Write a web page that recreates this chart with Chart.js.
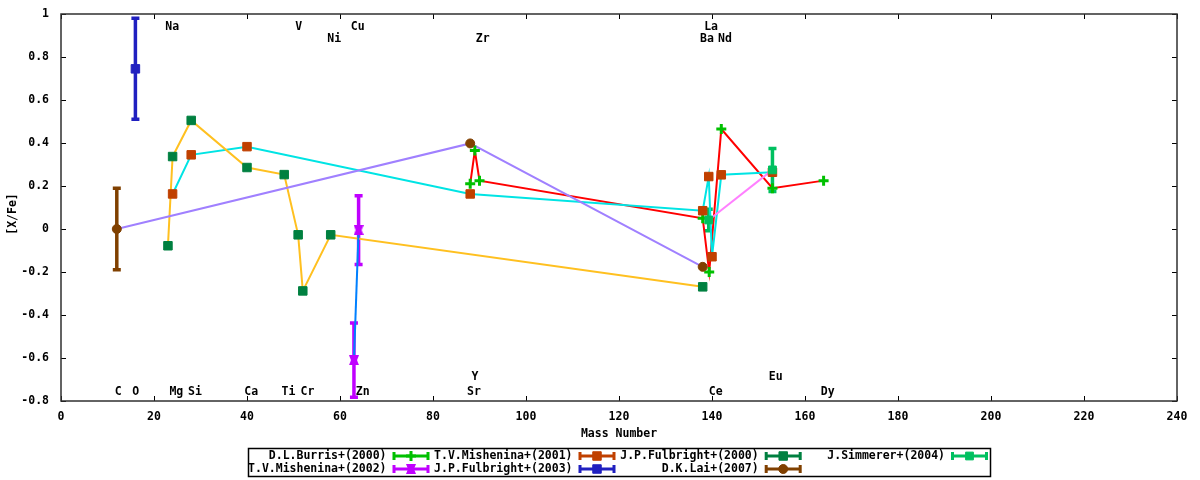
<!DOCTYPE html>
<html>
<head>
<meta charset="utf-8">
<script src="https://cdn.jsdelivr.net/npm/chart.js@4.4.1/dist/chart.umd.min.js"></script>
<style>
html,body{margin:0;padding:0;background:#fff;}
canvas{display:block;}
</style>
</head>
<body>
<canvas id="c" width="1200" height="480"></canvas>
<script>
// ---------- data (mass number vs [X/Fe]) ----------
const burrisMass  = [88, 89, 90, 138, 139.4, 142, 153, 164];
const burrisXFe   = [0.21, 0.365, 0.225, 0.05, -0.20, 0.465, 0.19, 0.225];

const mish01Mass  = [24, 28, 40, 88, 138, 139.3, 140, 142, 153];
const mish01XFe   = [0.163, 0.345, 0.383, 0.163, 0.085, 0.244, -0.129, 0.252, 0.264];

const fulb00Mass  = [23, 24, 28, 40, 48, 51, 52, 58, 138];
const fulb00XFe   = [-0.078, 0.337, 0.505, 0.286, 0.253, -0.027, -0.288, -0.027, -0.269];

const simmMass    = [139.3, 153];
const simmXFe     = [0.042, 0.275];
const simmErr     = [0.05, 0.10];

const mish02Mass  = [63, 64];
const mish02XFe   = [-0.61, -0.005];
const mish02Err   = [0.173, 0.16];

const fulb03Mass  = [16];
const fulb03XFe   = [0.745];
const fulb03Err   = [0.235];

const laiMass     = [12, 88, 138];
const laiXFe      = [0, 0.398, -0.176];
const laiErr      = [0.19, 0, 0];

const seriesNames = ["D.L.Burris+(2000)", "T.V.Mishenina+(2001)", "J.P.Fulbright+(2000)",
                     "J.Simmerer+(2004)", "T.V.Mishenina+(2002)", "J.P.Fulbright+(2003)", "D.K.Lai+(2007)"];

// element labels inside the plot
const elemNames = ["Na","V","Cu","La", "Ni","Zr","Ba","Nd", "Y","Eu",
                   "C","O","Mg","Si","Ca","Ti","Cr","Zn","Sr","Ce","Dy"];
const elemMass  = [23.9, 51.1, 63.8, 139.8, 58.75, 90.7, 138.9, 142.8, 89.0, 153.7,
                   12.3, 16.05, 24.8, 28.8, 40.9, 48.9, 53.0, 64.9, 88.8, 140.8, 164.9];
const elemLevel = [0.94, 0.94, 0.94, 0.94, 0.885, 0.885, 0.885, 0.885, -0.69, -0.69,
                   -0.758, -0.758, -0.758, -0.758, -0.758, -0.758, -0.758, -0.758, -0.758, -0.758, -0.758];

const xMin = 0, xMax = 240, xStep = 20;
const yMin = -0.8, yMax = 1, yStep = 0.2;
const xTitle = "Mass Number";
const yTitle = "[X/Fe]";

// ---------- styles ----------
const FONT = 'bold 11.5px "DejaVu Sans Mono", "Liberation Mono", monospace';

function bowtie(color) {
  const c = document.createElement('canvas');
  c.width = 10; c.height = 10;
  const g = c.getContext('2d');
  g.fillStyle = color;
  g.beginPath();
  g.moveTo(0,0); g.lineTo(10,0); g.lineTo(8,5); g.lineTo(10,10);
  g.lineTo(0,10); g.lineTo(2,5); g.closePath();
  g.fill();
  return c;
}

const series = [
  {mass: burrisMass, val: burrisXFe, err: null, marker: '#00c000', line: '#ff0000', style: 'cross', radius: 5, bw: 3},
  {mass: mish01Mass, val: mish01XFe, err: null, marker: '#c04000', line: '#00e4e4', style: 'rect', radius: 6, bw: 1},
  {mass: fulb00Mass, val: fulb00XFe, err: null, marker: '#008040', line: '#ffc020', style: 'rect', radius: 6, bw: 1},
  {mass: simmMass,   val: simmXFe,   err: simmErr, marker: '#00c060', line: '#ff80ff', style: 'rect', radius: 5.5, bw: 1},
  {mass: mish02Mass, val: mish02XFe, err: mish02Err, marker: '#c000ff', line: '#0080ff', style: bowtie('#c000ff'), radius: 5, bw: 1},
  {mass: fulb03Mass, val: fulb03XFe, err: fulb03Err, marker: '#2020c0', line: '#2020c0', style: 'rect', radius: 6, bw: 1},
  {mass: laiMass,    val: laiXFe,    err: laiErr, marker: '#804000', line: '#a080ff', style: 'circle', radius: 4.5, bw: 1}
];

function pts(s) { return s.mass.map((m, i) => ({x: m, y: s.val[i]})); }

const datasets = [];
series.forEach((s, i) => {
  datasets.push({
    label: seriesNames[i] + ' line', data: pts(s), showLine: s.mass.length > 1,
    borderColor: s.line, borderWidth: 2, pointRadius: 0, fill: false, tension: 0,
    order: 40 - i
  });
  datasets.push({
    label: seriesNames[i], data: pts(s), showLine: false,
    pointStyle: s.style, pointRadius: s.radius, pointHoverRadius: s.radius,
    pointBackgroundColor: s.marker, pointBorderColor: s.marker, pointBorderWidth: s.bw,
    order: 20 - i
  });
});

// ---------- plugins ----------
const errorBars = {
  id: 'errorBars',
  beforeDatasetsDraw(chart) {
    const ctx = chart.ctx, xs = chart.scales.x, ys = chart.scales.y;
    ctx.save();
    ctx.lineCap = 'butt';
    series.forEach(s => {
      if (!s.err) return;
      ctx.strokeStyle = s.marker;
      ctx.lineWidth = 3.5;
      s.mass.forEach((m, i) => {
        const e = s.err[i];
        if (!e) return;
        const px = xs.getPixelForValue(m);
        const t = ys.getPixelForValue(s.val[i] + e);
        const b = ys.getPixelForValue(s.val[i] - e);
        ctx.beginPath();
        ctx.moveTo(px, t); ctx.lineTo(px, b);
        ctx.moveTo(px - 4, t); ctx.lineTo(px + 4, t);
        ctx.moveTo(px - 4, b); ctx.lineTo(px + 4, b);
        ctx.stroke();
      });
    });
    ctx.restore();
  }
};

const frame = {
  id: 'frame',
  afterDraw(chart) {
    const ctx = chart.ctx, a = chart.chartArea, xs = chart.scales.x, ys = chart.scales.y;
    ctx.save();
    ctx.strokeStyle = '#000';
    ctx.lineWidth = 1;
    ctx.beginPath();
    for (let v = xMin; v <= xMax + 1e-9; v += xStep) {
      const px = Math.round(xs.getPixelForValue(v)) + 0.5;
      ctx.moveTo(px, a.bottom); ctx.lineTo(px, a.bottom - 5);
      ctx.moveTo(px, a.top); ctx.lineTo(px, a.top + 5);
    }
    for (let k = 0; k <= Math.round((yMax - yMin) / yStep); k++) {
      const v = yMin + k * yStep;
      const py = Math.round(ys.getPixelForValue(v)) + 0.5;
      ctx.moveTo(a.left, py); ctx.lineTo(a.left + 5, py);
      ctx.moveTo(a.right, py); ctx.lineTo(a.right - 5, py);
    }
    ctx.stroke();
    ctx.strokeStyle = '#303030';
    ctx.lineWidth = 1.5;
    ctx.strokeRect(a.left, a.top, a.right - a.left, a.bottom - a.top);

    ctx.font = FONT;
    ctx.fillStyle = '#000';
    ctx.textAlign = 'center';
    ctx.textBaseline = 'middle';
    elemNames.forEach((n, i) => {
      ctx.fillText(n, xs.getPixelForValue(elemMass[i]), ys.getPixelForValue(elemLevel[i]));
    });

    ctx.fillText(xTitle, (a.left + a.right) / 2, 434);
    ctx.save();
    ctx.translate(13, 214);
    ctx.rotate(-Math.PI / 2);
    ctx.fillText(yTitle, 0, 0);
    ctx.restore();

    const bx = 248.5, by = 448.5, bw = 742, bh = 28;
    ctx.strokeStyle = '#000';
    ctx.lineWidth = 1.5;
    ctx.strokeRect(bx, by, bw, bh);
    const colRight = [386.5, 572.5, 758.7, 945];
    const rowY = [456, 469];
    const slots = [[0,0],[0,1],[0,2],[0,3],[1,0],[1,1],[1,2]];
    ctx.textAlign = 'right';
    series.forEach((s, i) => {
      const [r, c] = slots[i];
      const y = rowY[r], tr = colRight[c];
      ctx.fillStyle = '#000';
      ctx.fillText(seriesNames[i], tr, y);
      const cx = tr + 24.5;
      ctx.strokeStyle = s.marker;
      ctx.lineWidth = 3;
      ctx.beginPath();
      ctx.moveTo(cx - 17, y); ctx.lineTo(cx + 17, y);
      ctx.moveTo(cx - 17, y - 4); ctx.lineTo(cx - 17, y + 4);
      ctx.moveTo(cx + 17, y - 4); ctx.lineTo(cx + 17, y + 4);
      ctx.stroke();
      ctx.fillStyle = s.marker;
      ctx.lineWidth = s.bw;
      Chart.helpers.drawPoint(ctx, {pointStyle: s.style, radius: s.radius, borderWidth: s.bw, rotation: 0}, cx, y);
    });
    ctx.restore();
  }
};

new Chart(document.getElementById('c'), {
  type: 'scatter',
  data: {datasets},
  options: {
    responsive: false,
    animation: false,
    devicePixelRatio: 1,
    layout: {padding: {left: 0, right: 23, top: 14, bottom: 0}},
    plugins: {legend: {display: false}, tooltip: {enabled: false}},
    scales: {
      x: {
        type: 'linear', min: xMin, max: xMax,
        ticks: {stepSize: xStep, padding: 9, color: '#000', maxRotation: 0,
                font: {family: '"DejaVu Sans Mono", "Liberation Mono", monospace', size: 11.5, weight: 'bold'}},
        grid: {display: false, drawTicks: false},
        border: {display: false},
        afterFit(s) { s.height = 79; s.paddingLeft = 0; s.paddingRight = 0; }
      },
      y: {
        type: 'linear', min: yMin, max: yMax,
        ticks: {stepSize: yStep, padding: 12, color: '#000',
                font: {family: '"DejaVu Sans Mono", "Liberation Mono", monospace', size: 11.5, weight: 'bold'},
                callback: v => String(Math.round(v * 10) / 10)},
        grid: {display: false, drawTicks: false},
        border: {display: false},
        afterFit(s) { s.width = 61; s.paddingTop = 0; s.paddingBottom = 0; }
      }
    }
  },
  plugins: [errorBars, frame]
});
</script>
</body>
</html>
